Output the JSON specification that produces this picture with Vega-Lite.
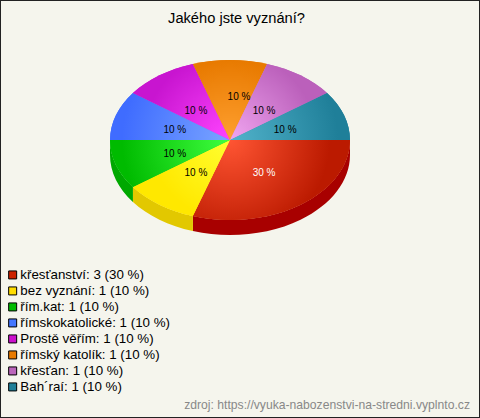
{
"$schema":"https://vega.github.io/schema/vega-lite/v6.json",
"width":480,"height":418,"padding":0,"autosize":"none",
"background":"#f5f5ed",
"view":{"stroke":"#222222","strokeWidth":2},
"title":{"text":"Jakého jste vyznání?","anchor":"middle","dx":-3.5,"offset":-26,"font":"Liberation Sans","fontSize":14.67,"fontWeight":"normal","color":"#000000"},
"config":{"font":"Liberation Sans"},
"datasets":{"answers":[
{"name":"křesťanství","value":3,"pct":30,"legend":"křesťanství: 3 (30 %)"},
{"name":"bez vyznání","value":1,"pct":10,"legend":"bez vyznání: 1 (10 %)"},
{"name":"řím.kat","value":1,"pct":10,"legend":"řím.kat: 1 (10 %)"},
{"name":"římskokatolické","value":1,"pct":10,"legend":"římskokatolické: 1 (10 %)"},
{"name":"Prostě věřím","value":1,"pct":10,"legend":"Prostě věřím: 1 (10 %)"},
{"name":"římský katolík","value":1,"pct":10,"legend":"římský katolík: 1 (10 %)"},
{"name":"křesťan","value":1,"pct":10,"legend":"křesťan: 1 (10 %)"},
{"name":"Bah´raí","value":1,"pct":10,"legend":"Bah´raí: 1 (10 %)"}
]},
"data":{"name":"answers"},
"layer":[
{"transform":[{"filter":"indexof(['křesťanství','bez vyznání','řím.kat'],datum.name)>=0"}],
"mark":{"type":"point","filled":true,"opacity":1,"strokeWidth":0,"size":57600},
"encoding":{
"x":{"datum":0,"type":"quantitative","scale":{"domain":[-230,250]},"axis":null},
"y":{"datum":0,"type":"quantitative","scale":{"domain":[278,-140]},"axis":null},
"shape":{"field":"name","type":"nominal","legend":null,"sort":null,"scale":{"domain":["křesťanství","bez vyznání","řím.kat"],"range":[
"M1 0A1 .66667 0 0 1 -.30902 .63404L-.30902 .75904A1 .66667 0 0 0 1 .125Z",
"M-.30902 .63404A1 .66667 0 0 1 -.80902 .39186L-.80902 .51686A1 .66667 0 0 0 -.30902 .75904Z",
"M-.80902 .39186A1 .66667 0 0 1 -1 0L-1 .125A1 .66667 0 0 0 -.80902 .51686Z"]}},
"fill":{"condition":[{"test":"datum.name==='křesťanství'","value":"#a80000"},{"test":"datum.name==='bez vyznání'","value":"#e2c800"}],"value":"#00a800"}
}},
{"mark":{"type":"point","filled":true,"opacity":1,"strokeWidth":0,"size":57600},
"encoding":{
"x":{"datum":0,"type":"quantitative","scale":{"domain":[-230,250]},"axis":null},
"y":{"datum":0,"type":"quantitative","scale":{"domain":[278,-140]},"axis":null},
"shape":{"field":"name","type":"nominal","legend":null,"scale":{"domain":["křesťanství","bez vyznání","řím.kat","římskokatolické","Prostě věřím","římský katolík","křesťan","Bah´raí"],"range":[
"M0 0L1 0A1 .66667 0 0 1 -.30902 .63404Z",
"M0 0L-.30902 .63404A1 .66667 0 0 1 -.80902 .39186Z",
"M0 0L-.80902 .39186A1 .66667 0 0 1 -1 0Z",
"M0 0L-1 0A1 .66667 0 0 1 -.80902 -.39186Z",
"M0 0L-.80902 -.39186A1 .66667 0 0 1 -.30902 -.63404Z",
"M0 0L-.30902 -.63404A1 .66667 0 0 1 .30902 -.63404Z",
"M0 0L.30902 -.63404A1 .66667 0 0 1 .80902 -.39186Z",
"M0 0L.80902 -.39186A1 .66667 0 0 1 1 0Z"]}},
"fill":{"field":"legend","type":"nominal","sort":null,
"scale":{"domain":["křesťanství: 3 (30 %)","bez vyznání: 1 (10 %)","řím.kat: 1 (10 %)","římskokatolické: 1 (10 %)","Prostě věřím: 1 (10 %)","římský katolík: 1 (10 %)","křesťan: 1 (10 %)","Bah´raí: 1 (10 %)"],
"range":["#cc2200","#ffdd00","#00bb00","#4477ff","#cc11cc","#e87a00","#bb66bb","#1f7f99"]},
"legend":{"title":null,"orient":"none","legendX":6,"legendY":267,"symbolType":"square","symbolSize":64,"symbolStrokeColor":"#000000","symbolStrokeWidth":1,"symbolOpacity":1,"labelFont":"Liberation Sans","labelFontSize":13.33,"labelColor":"#000000","labelLimit":400,"rowPadding":0,"clipHeight":15.86,"labelOffset":1,"columnPadding":0,"padding":0}}
}},
{"mark":{"type":"point","filled":true,"opacity":1,"strokeWidth":0,"size":57600},
"encoding":{
"x":{"datum":0,"type":"quantitative","scale":{"domain":[-230,250]},"axis":null},
"y":{"datum":0,"type":"quantitative","scale":{"domain":[278,-140]},"axis":null},
"shape":{"field":"name","type":"nominal","legend":null,"scale":{"domain":["křesťanství","bez vyznání","řím.kat","římskokatolické","Prostě věřím","římský katolík","křesťan","Bah´raí"],"range":[
"M0 0L1 0A1 .66667 0 0 1 -.30902 .63404Z",
"M0 0L-.30902 .63404A1 .66667 0 0 1 -.80902 .39186Z",
"M0 0L-.80902 .39186A1 .66667 0 0 1 -1 0Z",
"M0 0L-1 0A1 .66667 0 0 1 -.80902 -.39186Z",
"M0 0L-.80902 -.39186A1 .66667 0 0 1 -.30902 -.63404Z",
"M0 0L-.30902 -.63404A1 .66667 0 0 1 .30902 -.63404Z",
"M0 0L.30902 -.63404A1 .66667 0 0 1 .80902 -.39186Z",
"M0 0L.80902 -.39186A1 .66667 0 0 1 1 0Z"]}},
"fill":{"condition":[
{"test":"datum.name==='křesťanství'","value":{"gradient":"radial","x1":0.2362,"y1":0.2454,"r1":0,"x2":0.2362,"y2":0.2454,"r2":0.6366,"stops":[{"offset":0,"color":"#ff5533"},{"offset":1,"color":"#bb1a00"}]}},
{"test":"datum.name==='bez vyznání'","value":{"gradient":"radial","x1":1,"y1":0.108,"r1":0,"x2":1,"y2":0.108,"r2":0.82,"stops":[{"offset":0,"color":"#ffff30"},{"offset":1,"color":"#ffe800"}]}},
{"test":"datum.name==='řím.kat'","value":{"gradient":"radial","x1":1,"y1":0.304,"r1":0,"x2":1,"y2":0.304,"r2":0.9,"stops":[{"offset":0,"color":"#40ff40"},{"offset":1,"color":"#00bb00"}]}},
{"test":"datum.name==='římskokatolické'","value":{"gradient":"radial","x1":1,"y1":0.696,"r1":0,"x2":1,"y2":0.696,"r2":0.9,"stops":[{"offset":0,"color":"#7aa5ff"},{"offset":1,"color":"#3f6cff"}]}},
{"test":"datum.name==='Prostě věřím'","value":{"gradient":"radial","x1":1,"y1":0.892,"r1":0,"x2":1,"y2":0.892,"r2":0.9,"stops":[{"offset":0,"color":"#ff44ff"},{"offset":1,"color":"#c815d0"}]}},
{"test":"datum.name==='římský katolík'","value":{"gradient":"radial","x1":0.5,"y1":1,"r1":0,"x2":0.5,"y2":1,"r2":1,"stops":[{"offset":0,"color":"#ffa030"},{"offset":1,"color":"#e87a00"}]}},
{"test":"datum.name==='křesťan'","value":{"gradient":"radial","x1":0,"y1":0.892,"r1":0,"x2":0,"y2":0.892,"r2":0.9,"stops":[{"offset":0,"color":"#f0a5f0"},{"offset":1,"color":"#bb60bb"}]}}
],"value":{"gradient":"radial","x1":0,"y1":0.696,"r1":0,"x2":0,"y2":0.696,"r2":0.9,"stops":[{"offset":0,"color":"#52b3cb"},{"offset":1,"color":"#1f7f99"}]}}
}},
{"transform":[
{"joinaggregate":[{"op":"sum","field":"value","as":"total"}]},
{"window":[{"op":"sum","field":"value","as":"cum"}],"frame":[null,0],"ignorePeers":true},
{"calculate":"(datum.cum-datum.value/2)/datum.total*2*PI","as":"mid"},
{"calculate":"58*cos(datum.mid)+(datum.name==='římský katolík'?9:0)","as":"lx"},
{"calculate":"38*sin(datum.mid)+2+(datum.name==='římský katolík'?-7:0)","as":"ly"},
{"calculate":"datum.pct+' %'","as":"lab"}
],
"mark":{"type":"text","fontSize":10,"font":"Liberation Sans","align":"center","baseline":"middle"},
"encoding":{
"x":{"field":"lx","type":"quantitative","scale":{"domain":[-230,250]},"axis":null},
"y":{"field":"ly","type":"quantitative","scale":{"domain":[278,-140]},"axis":null},
"text":{"field":"lab","type":"nominal"},
"color":{"condition":{"test":"datum.value===3","value":"#ffffff"},"value":"#000000"}
}},
{"data":{"values":[{"source":"zdroj: https://vyuka-nabozenstvi-na-stredni.vyplnto.cz"}]},
"mark":{"type":"text","fontSize":12.17,"font":"Liberation Sans","align":"right","baseline":"middle","color":"#888888"},
"encoding":{
"x":{"datum":240,"type":"quantitative","scale":{"domain":[-230,250]},"axis":null},
"y":{"datum":264.5,"type":"quantitative","scale":{"domain":[278,-140]},"axis":null},
"text":{"field":"source","type":"nominal"}
}}
],
"resolve":{"scale":{"shape":"independent"}}
}
